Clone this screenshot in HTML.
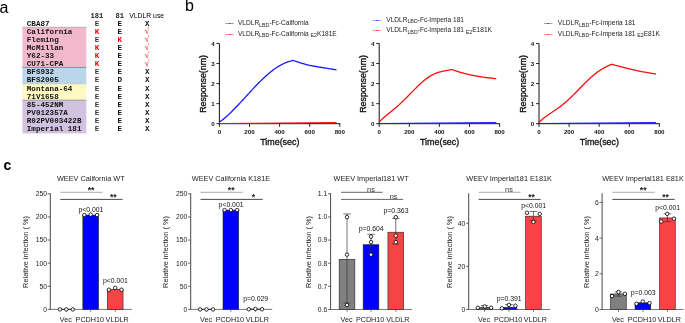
<!DOCTYPE html>
<html><head><meta charset="utf-8"><style>
html,body{margin:0;padding:0;background:#fff;width:685px;height:323px;overflow:hidden}
svg{display:block;will-change:transform}
</style></head><body>
<svg width="685" height="323" viewBox="0 0 685 323" font-family="'Liberation Sans', sans-serif">
<rect x="0" y="0" width="685" height="323" fill="#fff"/>
<text x="-0.60" y="12.70" font-size="16" text-anchor="start" font-weight="normal" fill="#000" font-family="'Liberation Sans', sans-serif" >a</text>
<rect x="22.40" y="27.00" width="63.90" height="40.50" fill="#F2B8CC" stroke="none" stroke-width="0"/>
<rect x="22.40" y="67.50" width="63.90" height="16.30" fill="#BAD6EA" stroke="none" stroke-width="0"/>
<rect x="22.40" y="83.80" width="63.90" height="16.40" fill="#FEF8C2" stroke="none" stroke-width="0"/>
<rect x="22.40" y="100.20" width="63.90" height="33.20" fill="#D1C2E0" stroke="none" stroke-width="0"/>
<line x1="22.40" y1="27.20" x2="86.30" y2="27.20" stroke="#9aa4b4" stroke-width="0.6"/>
<line x1="22.40" y1="67.50" x2="86.30" y2="67.50" stroke="#5c7896" stroke-width="0.7"/>
<line x1="22.40" y1="83.80" x2="86.30" y2="83.80" stroke="#aab0b8" stroke-width="0.5"/>
<line x1="22.40" y1="100.20" x2="86.30" y2="100.20" stroke="#808090" stroke-width="0.7"/>
<text x="90.60" y="18.00" font-size="7.1" text-anchor="start" font-weight="bold" fill="#222" font-family="'Liberation Mono', monospace" >181</text>
<text x="115.50" y="18.00" font-size="7.1" text-anchor="start" font-weight="bold" fill="#222" font-family="'Liberation Mono', monospace" >81</text>
<text x="129.30" y="18.30" font-size="6.8" text-anchor="start" font-weight="normal" fill="#000" font-family="'Liberation Sans', sans-serif" >VLDLR use</text>
<text x="26.80" y="25.60" font-size="7.6" text-anchor="start" font-weight="bold" fill="#111" font-family="'Liberation Mono', monospace" >CBA87</text>
<text x="97.10" y="25.60" font-size="7.6" text-anchor="middle" font-weight="bold" fill="#3a3a3a" font-family="'Liberation Mono', monospace" >E</text>
<text x="119.70" y="25.60" font-size="7.6" text-anchor="middle" font-weight="bold" fill="#111" font-family="'Liberation Mono', monospace" >E</text>
<text x="147.20" y="25.60" font-size="7.6" text-anchor="middle" font-weight="bold" fill="#111" font-family="'Liberation Mono', monospace" >X</text>
<text x="26.80" y="33.72" font-size="7.6" text-anchor="start" font-weight="bold" fill="#111" font-family="'Liberation Mono', monospace" >California</text>
<text x="97.10" y="33.72" font-size="7.6" text-anchor="middle" font-weight="bold" fill="#ff0000" font-family="'Liberation Mono', monospace" >K</text>
<text x="119.70" y="33.72" font-size="7.6" text-anchor="middle" font-weight="bold" fill="#111" font-family="'Liberation Mono', monospace" >E</text>
<path d="M144.80,30.42 L145.60,29.92 L147.30,33.82" stroke="#f04040" stroke-width="0.85" fill="none" stroke-linejoin="round"/>
<path d="M147.30,33.82 L148.60,26.92" stroke="#f26a6a" stroke-width="0.6" fill="none"/>
<text x="26.80" y="41.83" font-size="7.6" text-anchor="start" font-weight="bold" fill="#111" font-family="'Liberation Mono', monospace" >Fleming</text>
<text x="97.10" y="41.83" font-size="7.6" text-anchor="middle" font-weight="bold" fill="#3a3a3a" font-family="'Liberation Mono', monospace" >E</text>
<text x="119.70" y="41.83" font-size="7.6" text-anchor="middle" font-weight="bold" fill="#ff0000" font-family="'Liberation Mono', monospace" >K</text>
<path d="M144.80,38.53 L145.60,38.03 L147.30,41.93" stroke="#f04040" stroke-width="0.85" fill="none" stroke-linejoin="round"/>
<path d="M147.30,41.93 L148.60,35.03" stroke="#f26a6a" stroke-width="0.6" fill="none"/>
<text x="26.80" y="49.95" font-size="7.6" text-anchor="start" font-weight="bold" fill="#111" font-family="'Liberation Mono', monospace" >McMillan</text>
<text x="97.10" y="49.95" font-size="7.6" text-anchor="middle" font-weight="bold" fill="#ff0000" font-family="'Liberation Mono', monospace" >K</text>
<text x="119.70" y="49.95" font-size="7.6" text-anchor="middle" font-weight="bold" fill="#111" font-family="'Liberation Mono', monospace" >E</text>
<path d="M144.80,46.65 L145.60,46.15 L147.30,50.05" stroke="#f04040" stroke-width="0.85" fill="none" stroke-linejoin="round"/>
<path d="M147.30,50.05 L148.60,43.15" stroke="#f26a6a" stroke-width="0.6" fill="none"/>
<text x="26.80" y="58.06" font-size="7.6" text-anchor="start" font-weight="bold" fill="#111" font-family="'Liberation Mono', monospace" >Y62-33</text>
<text x="97.10" y="58.06" font-size="7.6" text-anchor="middle" font-weight="bold" fill="#ff0000" font-family="'Liberation Mono', monospace" >K</text>
<text x="119.70" y="58.06" font-size="7.6" text-anchor="middle" font-weight="bold" fill="#111" font-family="'Liberation Mono', monospace" >E</text>
<path d="M144.80,54.76 L145.60,54.26 L147.30,58.16" stroke="#f04040" stroke-width="0.85" fill="none" stroke-linejoin="round"/>
<path d="M147.30,58.16 L148.60,51.26" stroke="#f26a6a" stroke-width="0.6" fill="none"/>
<text x="26.80" y="66.18" font-size="7.6" text-anchor="start" font-weight="bold" fill="#111" font-family="'Liberation Mono', monospace" >CU71-CPA</text>
<text x="97.10" y="66.18" font-size="7.6" text-anchor="middle" font-weight="bold" fill="#ff0000" font-family="'Liberation Mono', monospace" >K</text>
<text x="119.70" y="66.18" font-size="7.6" text-anchor="middle" font-weight="bold" fill="#111" font-family="'Liberation Mono', monospace" >E</text>
<path d="M144.80,62.88 L145.60,62.38 L147.30,66.28" stroke="#f04040" stroke-width="0.85" fill="none" stroke-linejoin="round"/>
<path d="M147.30,66.28 L148.60,59.38" stroke="#f26a6a" stroke-width="0.6" fill="none"/>
<text x="26.80" y="74.29" font-size="7.6" text-anchor="start" font-weight="bold" fill="#111" font-family="'Liberation Mono', monospace" >BFS932</text>
<text x="97.10" y="74.29" font-size="7.6" text-anchor="middle" font-weight="bold" fill="#3a3a3a" font-family="'Liberation Mono', monospace" >E</text>
<text x="119.70" y="74.29" font-size="7.6" text-anchor="middle" font-weight="bold" fill="#111" font-family="'Liberation Mono', monospace" >E</text>
<text x="147.20" y="74.29" font-size="7.6" text-anchor="middle" font-weight="bold" fill="#111" font-family="'Liberation Mono', monospace" >X</text>
<text x="26.80" y="82.41" font-size="7.6" text-anchor="start" font-weight="bold" fill="#111" font-family="'Liberation Mono', monospace" >BFS2005</text>
<text x="97.10" y="82.41" font-size="7.6" text-anchor="middle" font-weight="bold" fill="#3a3a3a" font-family="'Liberation Mono', monospace" >E</text>
<text x="119.70" y="82.41" font-size="7.6" text-anchor="middle" font-weight="bold" fill="#111" font-family="'Liberation Mono', monospace" >D</text>
<text x="147.20" y="82.41" font-size="7.6" text-anchor="middle" font-weight="bold" fill="#111" font-family="'Liberation Mono', monospace" >X</text>
<text x="26.80" y="90.52" font-size="7.6" text-anchor="start" font-weight="bold" fill="#111" font-family="'Liberation Mono', monospace" >Montana-64</text>
<text x="97.10" y="90.52" font-size="7.6" text-anchor="middle" font-weight="bold" fill="#3a3a3a" font-family="'Liberation Mono', monospace" >E</text>
<text x="119.70" y="90.52" font-size="7.6" text-anchor="middle" font-weight="bold" fill="#111" font-family="'Liberation Mono', monospace" >E</text>
<text x="147.20" y="90.52" font-size="7.6" text-anchor="middle" font-weight="bold" fill="#111" font-family="'Liberation Mono', monospace" >X</text>
<text x="26.80" y="98.63" font-size="7.6" text-anchor="start" font-weight="bold" fill="#111" font-family="'Liberation Mono', monospace" >71V1658</text>
<text x="97.10" y="98.63" font-size="7.6" text-anchor="middle" font-weight="bold" fill="#3a3a3a" font-family="'Liberation Mono', monospace" >E</text>
<text x="119.70" y="98.63" font-size="7.6" text-anchor="middle" font-weight="bold" fill="#111" font-family="'Liberation Mono', monospace" >E</text>
<text x="147.20" y="98.63" font-size="7.6" text-anchor="middle" font-weight="bold" fill="#111" font-family="'Liberation Mono', monospace" >X</text>
<text x="26.80" y="106.75" font-size="7.6" text-anchor="start" font-weight="bold" fill="#111" font-family="'Liberation Mono', monospace" >85-452NM</text>
<text x="97.10" y="106.75" font-size="7.6" text-anchor="middle" font-weight="bold" fill="#3a3a3a" font-family="'Liberation Mono', monospace" >E</text>
<text x="119.70" y="106.75" font-size="7.6" text-anchor="middle" font-weight="bold" fill="#111" font-family="'Liberation Mono', monospace" >E</text>
<text x="147.20" y="106.75" font-size="7.6" text-anchor="middle" font-weight="bold" fill="#111" font-family="'Liberation Mono', monospace" >X</text>
<text x="26.80" y="114.87" font-size="7.6" text-anchor="start" font-weight="bold" fill="#111" font-family="'Liberation Mono', monospace" >PV012357A</text>
<text x="97.10" y="114.87" font-size="7.6" text-anchor="middle" font-weight="bold" fill="#3a3a3a" font-family="'Liberation Mono', monospace" >E</text>
<text x="119.70" y="114.87" font-size="7.6" text-anchor="middle" font-weight="bold" fill="#111" font-family="'Liberation Mono', monospace" >E</text>
<text x="147.20" y="114.87" font-size="7.6" text-anchor="middle" font-weight="bold" fill="#111" font-family="'Liberation Mono', monospace" >X</text>
<text x="26.80" y="122.98" font-size="7.6" text-anchor="start" font-weight="bold" fill="#111" font-family="'Liberation Mono', monospace" >R02PV003422B</text>
<text x="97.10" y="122.98" font-size="7.6" text-anchor="middle" font-weight="bold" fill="#3a3a3a" font-family="'Liberation Mono', monospace" >E</text>
<text x="119.70" y="122.98" font-size="7.6" text-anchor="middle" font-weight="bold" fill="#111" font-family="'Liberation Mono', monospace" >E</text>
<text x="147.20" y="122.98" font-size="7.6" text-anchor="middle" font-weight="bold" fill="#111" font-family="'Liberation Mono', monospace" >X</text>
<text x="26.80" y="131.09" font-size="7.6" text-anchor="start" font-weight="bold" fill="#111" font-family="'Liberation Mono', monospace" >Imperial 181</text>
<text x="97.10" y="131.09" font-size="7.6" text-anchor="middle" font-weight="bold" fill="#3a3a3a" font-family="'Liberation Mono', monospace" >E</text>
<text x="119.70" y="131.09" font-size="7.6" text-anchor="middle" font-weight="bold" fill="#111" font-family="'Liberation Mono', monospace" >E</text>
<text x="147.20" y="131.09" font-size="7.6" text-anchor="middle" font-weight="bold" fill="#111" font-family="'Liberation Mono', monospace" >X</text>
<text x="185.00" y="10.80" font-size="16" text-anchor="start" font-weight="normal" fill="#000" font-family="'Liberation Sans', sans-serif" >b</text>
<line x1="225.30" y1="23.50" x2="233.90" y2="23.50" stroke="#7a7aff" stroke-width="0.75"/>
<line x1="228.90" y1="23.50" x2="230.30" y2="23.50" stroke="#2020ff" stroke-width="0.9"/>
<line x1="225.30" y1="34.50" x2="233.90" y2="34.50" stroke="#ff7070" stroke-width="0.75"/>
<line x1="228.90" y1="34.50" x2="230.30" y2="34.50" stroke="#ff2020" stroke-width="0.9"/>
<text x="238.00" y="24.90" font-size="6.55" text-anchor="start" font-weight="normal" fill="#1a1a1a" font-family="'Liberation Sans', sans-serif" >VLDLR<tspan font-size="5.3" dy="1.6">LBD</tspan><tspan dy="-1.6">-Fc-California</tspan></text>
<text x="238.00" y="35.80" font-size="6.55" text-anchor="start" font-weight="normal" fill="#1a1a1a" font-family="'Liberation Sans', sans-serif" >VLDLR<tspan font-size="5.3" dy="1.6">LBD</tspan><tspan dy="-1.6">-Fc-California </tspan><tspan font-size="5.3" dy="1.6">E2</tspan><tspan dy="-1.6">K181E</tspan></text>
<line x1="219.40" y1="43.42" x2="219.40" y2="124.20" stroke="#111" stroke-width="1"/>
<line x1="218.90" y1="123.70" x2="340.30" y2="123.70" stroke="#111" stroke-width="1"/>
<line x1="216.40" y1="123.70" x2="219.40" y2="123.70" stroke="#111" stroke-width="0.9"/>
<text x="214.70" y="125.90" font-size="6.2" text-anchor="end" font-weight="bold" fill="#111" font-family="'Liberation Sans', sans-serif" >0</text>
<line x1="216.40" y1="103.63" x2="219.40" y2="103.63" stroke="#111" stroke-width="0.9"/>
<text x="214.70" y="105.83" font-size="6.2" text-anchor="end" font-weight="bold" fill="#111" font-family="'Liberation Sans', sans-serif" >1</text>
<line x1="216.40" y1="83.56" x2="219.40" y2="83.56" stroke="#111" stroke-width="0.9"/>
<text x="214.70" y="85.76" font-size="6.2" text-anchor="end" font-weight="bold" fill="#111" font-family="'Liberation Sans', sans-serif" >2</text>
<line x1="216.40" y1="63.49" x2="219.40" y2="63.49" stroke="#111" stroke-width="0.9"/>
<text x="214.70" y="65.69" font-size="6.2" text-anchor="end" font-weight="bold" fill="#111" font-family="'Liberation Sans', sans-serif" >3</text>
<line x1="216.40" y1="43.42" x2="219.40" y2="43.42" stroke="#111" stroke-width="0.9"/>
<text x="214.70" y="45.62" font-size="6.2" text-anchor="end" font-weight="bold" fill="#111" font-family="'Liberation Sans', sans-serif" >4</text>
<line x1="219.40" y1="123.70" x2="219.40" y2="126.90" stroke="#111" stroke-width="0.9"/>
<text x="219.40" y="134.00" font-size="6.2" text-anchor="middle" font-weight="bold" fill="#111" font-family="'Liberation Sans', sans-serif" >0</text>
<line x1="249.50" y1="123.70" x2="249.50" y2="126.90" stroke="#111" stroke-width="0.9"/>
<text x="249.50" y="134.00" font-size="6.2" text-anchor="middle" font-weight="bold" fill="#111" font-family="'Liberation Sans', sans-serif" >200</text>
<line x1="279.60" y1="123.70" x2="279.60" y2="126.90" stroke="#111" stroke-width="0.9"/>
<text x="279.60" y="134.00" font-size="6.2" text-anchor="middle" font-weight="bold" fill="#111" font-family="'Liberation Sans', sans-serif" >400</text>
<line x1="309.70" y1="123.70" x2="309.70" y2="126.90" stroke="#111" stroke-width="0.9"/>
<text x="309.70" y="134.00" font-size="6.2" text-anchor="middle" font-weight="bold" fill="#111" font-family="'Liberation Sans', sans-serif" >600</text>
<line x1="339.80" y1="123.70" x2="339.80" y2="126.90" stroke="#111" stroke-width="0.9"/>
<text x="339.80" y="134.00" font-size="6.2" text-anchor="middle" font-weight="bold" fill="#111" font-family="'Liberation Sans', sans-serif" >800</text>
<text x="279.80" y="145.30" font-size="8.9" text-anchor="middle" font-weight="normal" fill="#111" font-family="'Liberation Sans', sans-serif" stroke="#111" stroke-width="0.32">Time(sec)</text>
<text x="0" y="0" font-size="8.8" text-anchor="middle" font-family="'Liberation Sans', sans-serif" fill="#111" stroke="#111" stroke-width="0.32" transform="translate(206.40,83.90) rotate(-90)">Response(nm)</text>
<path d="M219.40,123.50 L336.49,122.50" stroke="#ff0c0c" stroke-width="1.1" fill="none"/>
<path d="M219.40,122.08 L220.13,121.57 L220.86,121.04 L221.59,120.50 L222.32,119.95 L223.05,119.37 L223.78,118.79 L224.51,118.19 L225.24,117.57 L225.97,116.94 L226.70,116.30 L227.43,115.65 L228.16,114.99 L228.89,114.31 L229.62,113.62 L230.35,112.93 L231.08,112.22 L231.81,111.51 L232.54,110.78 L233.27,110.05 L234.00,109.31 L234.73,108.56 L235.46,107.81 L236.19,107.05 L236.92,106.29 L237.65,105.52 L238.38,104.74 L239.11,103.96 L239.84,103.18 L240.57,102.39 L241.30,101.60 L242.03,100.81 L242.76,100.01 L243.49,99.22 L244.22,98.42 L244.95,97.62 L245.68,96.82 L246.41,96.02 L247.14,95.22 L247.87,94.42 L248.60,93.63 L249.33,92.83 L250.06,92.04 L250.79,91.25 L251.52,90.46 L252.25,89.67 L252.98,88.89 L253.71,88.11 L254.44,87.34 L255.17,86.57 L255.90,85.81 L256.63,85.05 L257.36,84.30 L258.09,83.55 L258.82,82.81 L259.55,82.07 L260.28,81.35 L261.01,80.63 L261.74,79.92 L262.47,79.21 L263.20,78.52 L263.93,77.83 L264.66,77.15 L265.39,76.49 L266.12,75.83 L266.85,75.18 L267.58,74.54 L268.30,73.91 L269.03,73.29 L269.76,72.69 L270.49,72.09 L271.22,71.51 L271.95,70.94 L272.68,70.38 L273.41,69.83 L274.14,69.30 L274.87,68.78 L275.60,68.27 L276.33,67.77 L277.06,67.29 L277.79,66.82 L278.52,66.37 L279.25,65.93 L279.98,65.51 L280.71,65.10 L281.44,64.70 L282.17,64.32 L282.90,63.96 L283.63,63.61 L284.36,63.28 L285.09,62.96 L285.82,62.66 L286.55,62.38 L287.28,62.11 L288.01,61.86 L288.74,61.63 L289.47,61.41 L290.20,61.21 L290.93,61.03 L291.66,60.86 L292.39,60.28 L293.13,60.51 L293.86,60.75 L294.60,60.99 L295.33,61.22 L296.07,61.46 L296.80,61.69 L297.54,61.92 L298.27,62.15 L299.01,62.37 L299.74,62.60 L300.48,62.83 L301.21,63.05 L301.95,63.28 L302.68,63.51 L303.42,63.73 L304.15,63.95 L304.89,64.16 L305.62,64.37 L306.36,64.57 L307.09,64.76 L307.83,64.94 L308.56,65.11 L309.30,65.27 L310.03,65.43 L310.77,65.57 L311.50,65.72 L312.24,65.86 L312.97,65.99 L313.71,66.12 L314.44,66.25 L315.18,66.38 L315.91,66.50 L316.65,66.62 L317.38,66.75 L318.12,66.87 L318.85,66.99 L319.59,67.12 L320.32,67.25 L321.06,67.37 L321.79,67.49 L322.53,67.62 L323.26,67.74 L323.99,67.86 L324.73,67.98 L325.46,68.10 L326.20,68.21 L326.93,68.33 L327.67,68.45 L328.40,68.57 L329.14,68.68 L329.87,68.80 L330.61,68.91 L331.34,69.03 L332.08,69.15 L332.81,69.26 L333.55,69.38 L334.28,69.49 L335.02,69.61 L335.75,69.73 L336.49,69.84" stroke="#1a1aff" stroke-width="1.3" fill="none" stroke-linejoin="round"/>
<line x1="372.70" y1="20.50" x2="381.30" y2="20.50" stroke="#7a7aff" stroke-width="0.75"/>
<line x1="376.30" y1="20.50" x2="377.70" y2="20.50" stroke="#2020ff" stroke-width="0.9"/>
<line x1="372.70" y1="30.50" x2="381.30" y2="30.50" stroke="#ff7070" stroke-width="0.75"/>
<line x1="376.30" y1="30.50" x2="377.70" y2="30.50" stroke="#ff2020" stroke-width="0.9"/>
<text x="386.30" y="21.60" font-size="6.55" text-anchor="start" font-weight="normal" fill="#1a1a1a" font-family="'Liberation Sans', sans-serif" >VLDLR<tspan font-size="5.3" dy="1.6">LBD</tspan><tspan dy="-1.6">-Fc-Imperia 181</tspan></text>
<text x="386.30" y="32.10" font-size="6.55" text-anchor="start" font-weight="normal" fill="#1a1a1a" font-family="'Liberation Sans', sans-serif" >VLDLR<tspan font-size="5.3" dy="1.6">LBD</tspan><tspan dy="-1.6">-Fc-Imperia 181 </tspan><tspan font-size="5.3" dy="1.6">E2</tspan><tspan dy="-1.6">E181K</tspan></text>
<line x1="379.20" y1="43.42" x2="379.20" y2="124.20" stroke="#111" stroke-width="1"/>
<line x1="378.70" y1="123.70" x2="500.10" y2="123.70" stroke="#111" stroke-width="1"/>
<line x1="376.20" y1="123.70" x2="379.20" y2="123.70" stroke="#111" stroke-width="0.9"/>
<text x="374.50" y="125.90" font-size="6.2" text-anchor="end" font-weight="bold" fill="#111" font-family="'Liberation Sans', sans-serif" >0</text>
<line x1="376.20" y1="103.63" x2="379.20" y2="103.63" stroke="#111" stroke-width="0.9"/>
<text x="374.50" y="105.83" font-size="6.2" text-anchor="end" font-weight="bold" fill="#111" font-family="'Liberation Sans', sans-serif" >1</text>
<line x1="376.20" y1="83.56" x2="379.20" y2="83.56" stroke="#111" stroke-width="0.9"/>
<text x="374.50" y="85.76" font-size="6.2" text-anchor="end" font-weight="bold" fill="#111" font-family="'Liberation Sans', sans-serif" >2</text>
<line x1="376.20" y1="63.49" x2="379.20" y2="63.49" stroke="#111" stroke-width="0.9"/>
<text x="374.50" y="65.69" font-size="6.2" text-anchor="end" font-weight="bold" fill="#111" font-family="'Liberation Sans', sans-serif" >3</text>
<line x1="376.20" y1="43.42" x2="379.20" y2="43.42" stroke="#111" stroke-width="0.9"/>
<text x="374.50" y="45.62" font-size="6.2" text-anchor="end" font-weight="bold" fill="#111" font-family="'Liberation Sans', sans-serif" >4</text>
<line x1="379.20" y1="123.70" x2="379.20" y2="126.90" stroke="#111" stroke-width="0.9"/>
<text x="379.20" y="134.00" font-size="6.2" text-anchor="middle" font-weight="bold" fill="#111" font-family="'Liberation Sans', sans-serif" >0</text>
<line x1="409.30" y1="123.70" x2="409.30" y2="126.90" stroke="#111" stroke-width="0.9"/>
<text x="409.30" y="134.00" font-size="6.2" text-anchor="middle" font-weight="bold" fill="#111" font-family="'Liberation Sans', sans-serif" >200</text>
<line x1="439.40" y1="123.70" x2="439.40" y2="126.90" stroke="#111" stroke-width="0.9"/>
<text x="439.40" y="134.00" font-size="6.2" text-anchor="middle" font-weight="bold" fill="#111" font-family="'Liberation Sans', sans-serif" >400</text>
<line x1="469.50" y1="123.70" x2="469.50" y2="126.90" stroke="#111" stroke-width="0.9"/>
<text x="469.50" y="134.00" font-size="6.2" text-anchor="middle" font-weight="bold" fill="#111" font-family="'Liberation Sans', sans-serif" >600</text>
<line x1="499.60" y1="123.70" x2="499.60" y2="126.90" stroke="#111" stroke-width="0.9"/>
<text x="499.60" y="134.00" font-size="6.2" text-anchor="middle" font-weight="bold" fill="#111" font-family="'Liberation Sans', sans-serif" >800</text>
<text x="439.60" y="145.30" font-size="8.9" text-anchor="middle" font-weight="normal" fill="#111" font-family="'Liberation Sans', sans-serif" stroke="#111" stroke-width="0.32">Time(sec)</text>
<text x="0" y="0" font-size="8.8" text-anchor="middle" font-family="'Liberation Sans', sans-serif" fill="#111" stroke="#111" stroke-width="0.32" transform="translate(366.20,83.90) rotate(-90)">Response(nm)</text>
<path d="M379.20,123.50 L496.29,122.50" stroke="#1a1aff" stroke-width="1.1" fill="none"/>
<path d="M379.20,122.10 L379.92,121.32 L380.64,120.57 L381.37,119.85 L382.09,119.15 L382.81,118.47 L383.53,117.82 L384.26,117.18 L384.98,116.56 L385.70,115.95 L386.42,115.34 L387.15,114.75 L387.87,114.16 L388.59,113.58 L389.31,112.99 L390.04,112.41 L390.76,111.83 L391.48,111.25 L392.20,110.66 L392.93,110.07 L393.65,109.47 L394.37,108.87 L395.09,108.26 L395.82,107.65 L396.54,107.03 L397.26,106.40 L397.98,105.76 L398.70,105.11 L399.43,104.46 L400.15,103.80 L400.87,103.13 L401.59,102.45 L402.32,101.76 L403.04,101.07 L403.76,100.37 L404.48,99.66 L405.21,98.94 L405.93,98.22 L406.65,97.50 L407.37,96.77 L408.10,96.04 L408.82,95.30 L409.54,94.56 L410.26,93.82 L410.99,93.08 L411.71,92.34 L412.43,91.60 L413.15,90.86 L413.88,90.12 L414.60,89.39 L415.32,88.66 L416.04,87.94 L416.76,87.22 L417.49,86.51 L418.21,85.81 L418.93,85.12 L419.65,84.44 L420.38,83.77 L421.10,83.11 L421.82,82.47 L422.54,81.84 L423.27,81.22 L423.99,80.61 L424.71,80.03 L425.43,79.46 L426.16,78.90 L426.88,78.36 L427.60,77.85 L428.32,77.35 L429.05,76.86 L429.77,76.40 L430.49,75.96 L431.21,75.54 L431.94,75.13 L432.66,74.75 L433.38,74.39 L434.10,74.04 L434.82,73.72 L435.55,73.41 L436.27,73.13 L436.99,72.86 L437.71,72.61 L438.44,72.37 L439.16,72.15 L439.88,71.95 L440.60,71.76 L441.33,71.59 L442.05,71.42 L442.77,71.27 L443.49,71.12 L444.22,70.98 L444.94,70.85 L445.66,70.72 L446.38,70.59 L447.11,70.46 L447.83,70.33 L448.55,70.18 L449.27,70.03 L450.00,69.87 L450.72,69.69 L451.44,69.51 L452.19,69.75 L452.93,69.99 L453.68,70.23 L454.43,70.48 L455.18,70.72 L455.92,70.96 L456.67,71.20 L457.42,71.44 L458.17,71.67 L458.91,71.89 L459.66,72.10 L460.41,72.31 L461.16,72.52 L461.90,72.73 L462.65,72.93 L463.40,73.13 L464.15,73.33 L464.89,73.52 L465.64,73.71 L466.39,73.90 L467.14,74.08 L467.88,74.26 L468.63,74.44 L469.38,74.61 L470.13,74.77 L470.87,74.93 L471.62,75.09 L472.37,75.25 L473.12,75.40 L473.86,75.55 L474.61,75.69 L475.36,75.84 L476.11,75.98 L476.85,76.11 L477.60,76.25 L478.35,76.38 L479.10,76.50 L479.84,76.63 L480.59,76.75 L481.34,76.86 L482.09,76.97 L482.83,77.08 L483.58,77.19 L484.33,77.29 L485.08,77.39 L485.82,77.48 L486.57,77.58 L487.32,77.67 L488.07,77.76 L488.81,77.85 L489.56,77.94 L490.31,78.02 L491.06,78.11 L491.80,78.19 L492.55,78.28 L493.30,78.37 L494.05,78.45 L494.79,78.54 L495.54,78.63 L496.29,78.72" stroke="#ff0c0c" stroke-width="1.3" fill="none" stroke-linejoin="round"/>
<line x1="544.00" y1="23.50" x2="552.60" y2="23.50" stroke="#7a7aff" stroke-width="0.75"/>
<line x1="547.60" y1="23.50" x2="549.00" y2="23.50" stroke="#2020ff" stroke-width="0.9"/>
<line x1="544.00" y1="34.50" x2="552.60" y2="34.50" stroke="#ff7070" stroke-width="0.75"/>
<line x1="547.60" y1="34.50" x2="549.00" y2="34.50" stroke="#ff2020" stroke-width="0.9"/>
<text x="557.80" y="24.90" font-size="6.55" text-anchor="start" font-weight="normal" fill="#1a1a1a" font-family="'Liberation Sans', sans-serif" >VLDLR<tspan font-size="5.3" dy="1.6">LBD</tspan><tspan dy="-1.6">-Fc-Imperia 181</tspan></text>
<text x="557.80" y="35.60" font-size="6.55" text-anchor="start" font-weight="normal" fill="#1a1a1a" font-family="'Liberation Sans', sans-serif" >VLDLR<tspan font-size="5.3" dy="1.6">LBD</tspan><tspan dy="-1.6">-Fc-Imperia 181 </tspan><tspan font-size="5.3" dy="1.6">E2</tspan><tspan dy="-1.6">E81K</tspan></text>
<line x1="539.00" y1="43.42" x2="539.00" y2="124.20" stroke="#111" stroke-width="1"/>
<line x1="538.50" y1="123.70" x2="659.90" y2="123.70" stroke="#111" stroke-width="1"/>
<line x1="536.00" y1="123.70" x2="539.00" y2="123.70" stroke="#111" stroke-width="0.9"/>
<text x="534.30" y="125.90" font-size="6.2" text-anchor="end" font-weight="bold" fill="#111" font-family="'Liberation Sans', sans-serif" >0</text>
<line x1="536.00" y1="103.63" x2="539.00" y2="103.63" stroke="#111" stroke-width="0.9"/>
<text x="534.30" y="105.83" font-size="6.2" text-anchor="end" font-weight="bold" fill="#111" font-family="'Liberation Sans', sans-serif" >1</text>
<line x1="536.00" y1="83.56" x2="539.00" y2="83.56" stroke="#111" stroke-width="0.9"/>
<text x="534.30" y="85.76" font-size="6.2" text-anchor="end" font-weight="bold" fill="#111" font-family="'Liberation Sans', sans-serif" >2</text>
<line x1="536.00" y1="63.49" x2="539.00" y2="63.49" stroke="#111" stroke-width="0.9"/>
<text x="534.30" y="65.69" font-size="6.2" text-anchor="end" font-weight="bold" fill="#111" font-family="'Liberation Sans', sans-serif" >3</text>
<line x1="536.00" y1="43.42" x2="539.00" y2="43.42" stroke="#111" stroke-width="0.9"/>
<text x="534.30" y="45.62" font-size="6.2" text-anchor="end" font-weight="bold" fill="#111" font-family="'Liberation Sans', sans-serif" >4</text>
<line x1="539.00" y1="123.70" x2="539.00" y2="126.90" stroke="#111" stroke-width="0.9"/>
<text x="539.00" y="134.00" font-size="6.2" text-anchor="middle" font-weight="bold" fill="#111" font-family="'Liberation Sans', sans-serif" >0</text>
<line x1="569.10" y1="123.70" x2="569.10" y2="126.90" stroke="#111" stroke-width="0.9"/>
<text x="569.10" y="134.00" font-size="6.2" text-anchor="middle" font-weight="bold" fill="#111" font-family="'Liberation Sans', sans-serif" >200</text>
<line x1="599.20" y1="123.70" x2="599.20" y2="126.90" stroke="#111" stroke-width="0.9"/>
<text x="599.20" y="134.00" font-size="6.2" text-anchor="middle" font-weight="bold" fill="#111" font-family="'Liberation Sans', sans-serif" >400</text>
<line x1="629.30" y1="123.70" x2="629.30" y2="126.90" stroke="#111" stroke-width="0.9"/>
<text x="629.30" y="134.00" font-size="6.2" text-anchor="middle" font-weight="bold" fill="#111" font-family="'Liberation Sans', sans-serif" >600</text>
<line x1="659.40" y1="123.70" x2="659.40" y2="126.90" stroke="#111" stroke-width="0.9"/>
<text x="659.40" y="134.00" font-size="6.2" text-anchor="middle" font-weight="bold" fill="#111" font-family="'Liberation Sans', sans-serif" >800</text>
<text x="599.40" y="145.30" font-size="8.9" text-anchor="middle" font-weight="normal" fill="#111" font-family="'Liberation Sans', sans-serif" stroke="#111" stroke-width="0.32">Time(sec)</text>
<text x="0" y="0" font-size="8.8" text-anchor="middle" font-family="'Liberation Sans', sans-serif" fill="#111" stroke="#111" stroke-width="0.32" transform="translate(526.00,83.90) rotate(-90)">Response(nm)</text>
<path d="M539.00,123.50 L656.09,122.50" stroke="#1a1aff" stroke-width="1.1" fill="none"/>
<path d="M539.00,122.51 L539.73,121.75 L540.45,121.02 L541.18,120.33 L541.91,119.67 L542.63,119.04 L543.36,118.44 L544.09,117.85 L544.82,117.29 L545.54,116.74 L546.27,116.21 L547.00,115.70 L547.72,115.19 L548.45,114.69 L549.18,114.20 L549.90,113.71 L550.63,113.23 L551.36,112.75 L552.08,112.27 L552.81,111.79 L553.54,111.30 L554.27,110.81 L554.99,110.32 L555.72,109.82 L556.45,109.32 L557.17,108.81 L557.90,108.29 L558.63,107.76 L559.35,107.22 L560.08,106.67 L560.81,106.12 L561.53,105.55 L562.26,104.97 L562.99,104.39 L563.72,103.79 L564.44,103.18 L565.17,102.56 L565.90,101.93 L566.62,101.29 L567.35,100.64 L568.08,99.98 L568.80,99.32 L569.53,98.64 L570.26,97.95 L570.98,97.26 L571.71,96.55 L572.44,95.84 L573.17,95.13 L573.89,94.41 L574.62,93.68 L575.35,92.94 L576.07,92.21 L576.80,91.47 L577.53,90.73 L578.25,89.98 L578.98,89.23 L579.71,88.49 L580.43,87.74 L581.16,87.00 L581.89,86.25 L582.61,85.51 L583.34,84.78 L584.07,84.04 L584.80,83.31 L585.52,82.59 L586.25,81.88 L586.98,81.17 L587.70,80.47 L588.43,79.77 L589.16,79.09 L589.88,78.42 L590.61,77.75 L591.34,77.10 L592.06,76.46 L592.79,75.83 L593.52,75.22 L594.25,74.62 L594.97,74.03 L595.70,73.45 L596.43,72.89 L597.15,72.34 L597.88,71.81 L598.61,71.30 L599.33,70.79 L600.06,70.31 L600.79,69.83 L601.51,69.38 L602.24,68.93 L602.97,68.50 L603.70,68.09 L604.42,67.69 L605.15,67.30 L605.88,66.93 L606.60,66.56 L607.33,66.21 L608.06,65.87 L608.78,65.54 L609.51,65.22 L610.24,64.90 L610.96,64.60 L611.69,64.29 L612.43,64.49 L613.17,64.69 L613.91,64.89 L614.65,65.09 L615.39,65.29 L616.13,65.48 L616.87,65.68 L617.61,65.88 L618.35,66.08 L619.09,66.27 L619.83,66.46 L620.57,66.66 L621.31,66.85 L622.05,67.04 L622.79,67.23 L623.53,67.43 L624.27,67.62 L625.01,67.81 L625.75,68.00 L626.49,68.18 L627.23,68.37 L627.97,68.56 L628.71,68.74 L629.45,68.92 L630.19,69.09 L630.93,69.27 L631.67,69.44 L632.41,69.61 L633.15,69.78 L633.89,69.95 L634.63,70.12 L635.37,70.29 L636.11,70.45 L636.85,70.61 L637.59,70.77 L638.33,70.93 L639.07,71.09 L639.81,71.24 L640.55,71.39 L641.29,71.53 L642.03,71.68 L642.77,71.82 L643.51,71.96 L644.25,72.09 L644.99,72.22 L645.73,72.35 L646.47,72.48 L647.21,72.60 L647.95,72.73 L648.69,72.85 L649.43,72.97 L650.17,73.09 L650.91,73.21 L651.65,73.33 L652.39,73.45 L653.13,73.57 L653.87,73.69 L654.61,73.81 L655.35,73.93 L656.09,74.05" stroke="#ff0c0c" stroke-width="1.3" fill="none" stroke-linejoin="round"/>
<text x="3.50" y="169.80" font-size="14" text-anchor="start" font-weight="bold" fill="#000" font-family="'Liberation Sans', sans-serif" >c</text>
<text x="90.80" y="181.20" font-size="7.3" text-anchor="middle" font-weight="normal" fill="#222" font-family="'Liberation Sans', sans-serif" >WEEV California WT</text>
<line x1="50.30" y1="193.20" x2="50.30" y2="309.80" stroke="#333" stroke-width="0.9"/>
<line x1="49.90" y1="309.40" x2="131.80" y2="309.40" stroke="#6a6a6a" stroke-width="0.9"/>
<line x1="47.70" y1="309.40" x2="50.30" y2="309.40" stroke="#444" stroke-width="0.8"/>
<text x="47.00" y="311.80" font-size="6.8" text-anchor="end" font-weight="normal" fill="#222" font-family="'Liberation Sans', sans-serif" >0</text>
<line x1="47.70" y1="286.28" x2="50.30" y2="286.28" stroke="#444" stroke-width="0.8"/>
<text x="47.00" y="288.68" font-size="6.8" text-anchor="end" font-weight="normal" fill="#222" font-family="'Liberation Sans', sans-serif" >50</text>
<line x1="47.70" y1="263.16" x2="50.30" y2="263.16" stroke="#444" stroke-width="0.8"/>
<text x="47.00" y="265.56" font-size="6.8" text-anchor="end" font-weight="normal" fill="#222" font-family="'Liberation Sans', sans-serif" >100</text>
<line x1="47.70" y1="240.04" x2="50.30" y2="240.04" stroke="#444" stroke-width="0.8"/>
<text x="47.00" y="242.44" font-size="6.8" text-anchor="end" font-weight="normal" fill="#222" font-family="'Liberation Sans', sans-serif" >150</text>
<line x1="47.70" y1="216.92" x2="50.30" y2="216.92" stroke="#444" stroke-width="0.8"/>
<text x="47.00" y="219.32" font-size="6.8" text-anchor="end" font-weight="normal" fill="#222" font-family="'Liberation Sans', sans-serif" >200</text>
<line x1="47.70" y1="193.80" x2="50.30" y2="193.80" stroke="#444" stroke-width="0.8"/>
<text x="47.00" y="196.20" font-size="6.8" text-anchor="end" font-weight="normal" fill="#222" font-family="'Liberation Sans', sans-serif" >250</text>
<line x1="66.30" y1="309.40" x2="66.30" y2="311.80" stroke="#444" stroke-width="0.7"/>
<line x1="90.70" y1="309.40" x2="90.70" y2="311.80" stroke="#444" stroke-width="0.7"/>
<line x1="115.20" y1="309.40" x2="115.20" y2="311.80" stroke="#444" stroke-width="0.7"/>
<line x1="58.45" y1="309.40" x2="74.15" y2="309.40" stroke="#222" stroke-width="0.9"/>
<circle cx="59.90" cy="309.40" r="1.75" fill="#fff" stroke="#000" stroke-width="0.8"/>
<circle cx="66.30" cy="309.40" r="1.75" fill="#fff" stroke="#000" stroke-width="0.8"/>
<circle cx="72.80" cy="309.40" r="1.75" fill="#fff" stroke="#000" stroke-width="0.8"/>
<rect x="82.85" y="215.07" width="15.70" height="94.33" fill="#0000ff" stroke="#222" stroke-width="0.6"/>
<circle cx="84.30" cy="215.07" r="1.75" fill="#fff" stroke="#000" stroke-width="0.8"/>
<circle cx="90.70" cy="214.61" r="1.75" fill="#fff" stroke="#000" stroke-width="0.8"/>
<circle cx="97.10" cy="215.07" r="1.75" fill="#fff" stroke="#000" stroke-width="0.8"/>
<rect x="107.35" y="289.29" width="15.70" height="20.11" fill="#f84444" stroke="#222" stroke-width="0.6"/>
<circle cx="108.90" cy="289.75" r="1.75" fill="#fff" stroke="#000" stroke-width="0.8"/>
<circle cx="115.20" cy="287.90" r="1.75" fill="#fff" stroke="#000" stroke-width="0.8"/>
<circle cx="121.50" cy="289.75" r="1.75" fill="#fff" stroke="#000" stroke-width="0.8"/>
<text x="65.80" y="321.90" font-size="7.2" text-anchor="middle" font-weight="normal" fill="#222" font-family="'Liberation Sans', sans-serif" >Vec</text>
<text x="89.80" y="321.90" font-size="7.2" text-anchor="middle" font-weight="normal" fill="#222" font-family="'Liberation Sans', sans-serif" >PCDH10</text>
<text x="117.20" y="321.90" font-size="7.2" text-anchor="middle" font-weight="normal" fill="#222" font-family="'Liberation Sans', sans-serif" >VLDLR</text>
<text x="0" y="0" font-size="7.4" text-anchor="middle" font-family="'Liberation Sans', sans-serif" fill="#222" transform="translate(27.70,252.00) rotate(-90)">Relative infection ( %)</text>
<line x1="60.30" y1="192.30" x2="102.35" y2="192.30" stroke="#a0a0a0" stroke-width="0.9"/>
<line x1="60.30" y1="199.40" x2="122.50" y2="199.40" stroke="#333" stroke-width="0.9"/>
<text x="91.00" y="193.10" font-size="8.6" text-anchor="middle" font-weight="bold" fill="#222" font-family="'Liberation Sans', sans-serif" >**</text>
<text x="113.30" y="200.20" font-size="8.6" text-anchor="middle" font-weight="bold" fill="#222" font-family="'Liberation Sans', sans-serif" >**</text>
<text x="90.90" y="211.60" font-size="6.85" text-anchor="middle" font-weight="normal" fill="#111" font-family="'Liberation Sans', sans-serif" >p&lt;0.001</text>
<text x="115.40" y="282.70" font-size="6.85" text-anchor="middle" font-weight="normal" fill="#111" font-family="'Liberation Sans', sans-serif" >p&lt;0.001</text>
<text x="230.95" y="181.20" font-size="7.3" text-anchor="middle" font-weight="normal" fill="#222" font-family="'Liberation Sans', sans-serif" >WEEV California K181E</text>
<line x1="190.70" y1="193.20" x2="190.70" y2="309.80" stroke="#333" stroke-width="0.9"/>
<line x1="190.30" y1="309.40" x2="272.20" y2="309.40" stroke="#6a6a6a" stroke-width="0.9"/>
<line x1="188.10" y1="309.40" x2="190.70" y2="309.40" stroke="#444" stroke-width="0.8"/>
<text x="187.40" y="311.80" font-size="6.8" text-anchor="end" font-weight="normal" fill="#222" font-family="'Liberation Sans', sans-serif" >0</text>
<line x1="188.10" y1="286.28" x2="190.70" y2="286.28" stroke="#444" stroke-width="0.8"/>
<text x="187.40" y="288.68" font-size="6.8" text-anchor="end" font-weight="normal" fill="#222" font-family="'Liberation Sans', sans-serif" >50</text>
<line x1="188.10" y1="263.16" x2="190.70" y2="263.16" stroke="#444" stroke-width="0.8"/>
<text x="187.40" y="265.56" font-size="6.8" text-anchor="end" font-weight="normal" fill="#222" font-family="'Liberation Sans', sans-serif" >100</text>
<line x1="188.10" y1="240.04" x2="190.70" y2="240.04" stroke="#444" stroke-width="0.8"/>
<text x="187.40" y="242.44" font-size="6.8" text-anchor="end" font-weight="normal" fill="#222" font-family="'Liberation Sans', sans-serif" >150</text>
<line x1="188.10" y1="216.92" x2="190.70" y2="216.92" stroke="#444" stroke-width="0.8"/>
<text x="187.40" y="219.32" font-size="6.8" text-anchor="end" font-weight="normal" fill="#222" font-family="'Liberation Sans', sans-serif" >200</text>
<line x1="188.10" y1="193.80" x2="190.70" y2="193.80" stroke="#444" stroke-width="0.8"/>
<text x="187.40" y="196.20" font-size="6.8" text-anchor="end" font-weight="normal" fill="#222" font-family="'Liberation Sans', sans-serif" >250</text>
<line x1="206.50" y1="309.40" x2="206.50" y2="311.80" stroke="#444" stroke-width="0.7"/>
<line x1="230.85" y1="309.40" x2="230.85" y2="311.80" stroke="#444" stroke-width="0.7"/>
<line x1="255.40" y1="309.40" x2="255.40" y2="311.80" stroke="#444" stroke-width="0.7"/>
<line x1="198.65" y1="309.40" x2="214.35" y2="309.40" stroke="#222" stroke-width="0.9"/>
<circle cx="200.10" cy="309.40" r="1.75" fill="#fff" stroke="#000" stroke-width="0.8"/>
<circle cx="206.50" cy="309.40" r="1.75" fill="#fff" stroke="#000" stroke-width="0.8"/>
<circle cx="213.00" cy="309.40" r="1.75" fill="#fff" stroke="#000" stroke-width="0.8"/>
<rect x="223.00" y="210.12" width="15.70" height="99.28" fill="#0000ff" stroke="#222" stroke-width="0.6"/>
<circle cx="224.55" cy="210.12" r="1.75" fill="#fff" stroke="#000" stroke-width="0.8"/>
<circle cx="230.85" cy="210.12" r="1.75" fill="#fff" stroke="#000" stroke-width="0.8"/>
<circle cx="237.15" cy="210.12" r="1.75" fill="#fff" stroke="#000" stroke-width="0.8"/>
<line x1="247.55" y1="309.17" x2="263.25" y2="309.17" stroke="#222" stroke-width="0.9"/>
<circle cx="248.80" cy="309.26" r="1.75" fill="#fff" stroke="#000" stroke-width="0.8"/>
<circle cx="255.40" cy="308.94" r="1.75" fill="#fff" stroke="#000" stroke-width="0.8"/>
<circle cx="262.00" cy="309.26" r="1.75" fill="#fff" stroke="#000" stroke-width="0.8"/>
<text x="206.00" y="321.90" font-size="7.2" text-anchor="middle" font-weight="normal" fill="#222" font-family="'Liberation Sans', sans-serif" >Vec</text>
<text x="229.95" y="321.90" font-size="7.2" text-anchor="middle" font-weight="normal" fill="#222" font-family="'Liberation Sans', sans-serif" >PCDH10</text>
<text x="257.40" y="321.90" font-size="7.2" text-anchor="middle" font-weight="normal" fill="#222" font-family="'Liberation Sans', sans-serif" >VLDLR</text>
<text x="0" y="0" font-size="7.4" text-anchor="middle" font-family="'Liberation Sans', sans-serif" fill="#222" transform="translate(168.10,252.00) rotate(-90)">Relative infection ( %)</text>
<line x1="200.50" y1="192.30" x2="242.50" y2="192.30" stroke="#a0a0a0" stroke-width="0.9"/>
<line x1="200.50" y1="199.40" x2="262.70" y2="199.40" stroke="#333" stroke-width="0.9"/>
<text x="231.15" y="193.10" font-size="8.6" text-anchor="middle" font-weight="bold" fill="#222" font-family="'Liberation Sans', sans-serif" >**</text>
<text x="253.50" y="200.20" font-size="8.6" text-anchor="middle" font-weight="bold" fill="#222" font-family="'Liberation Sans', sans-serif" >*</text>
<text x="231.05" y="206.80" font-size="6.85" text-anchor="middle" font-weight="normal" fill="#111" font-family="'Liberation Sans', sans-serif" >p&lt;0.001</text>
<text x="255.60" y="300.80" font-size="6.85" text-anchor="middle" font-weight="normal" fill="#111" font-family="'Liberation Sans', sans-serif" >p=0.029</text>
<text x="371.10" y="181.20" font-size="7.3" text-anchor="middle" font-weight="normal" fill="#222" font-family="'Liberation Sans', sans-serif" >WEEV Imperial181 WT</text>
<line x1="330.60" y1="193.20" x2="330.60" y2="309.90" stroke="#333" stroke-width="0.9"/>
<line x1="330.20" y1="309.50" x2="412.10" y2="309.50" stroke="#6a6a6a" stroke-width="0.9"/>
<line x1="328.00" y1="309.50" x2="330.60" y2="309.50" stroke="#444" stroke-width="0.8"/>
<text x="327.30" y="311.90" font-size="6.8" text-anchor="end" font-weight="normal" fill="#222" font-family="'Liberation Sans', sans-serif" >0.6</text>
<line x1="328.00" y1="286.36" x2="330.60" y2="286.36" stroke="#444" stroke-width="0.8"/>
<text x="327.30" y="288.76" font-size="6.8" text-anchor="end" font-weight="normal" fill="#222" font-family="'Liberation Sans', sans-serif" >0.7</text>
<line x1="328.00" y1="263.22" x2="330.60" y2="263.22" stroke="#444" stroke-width="0.8"/>
<text x="327.30" y="265.62" font-size="6.8" text-anchor="end" font-weight="normal" fill="#222" font-family="'Liberation Sans', sans-serif" >0.8</text>
<line x1="328.00" y1="240.08" x2="330.60" y2="240.08" stroke="#444" stroke-width="0.8"/>
<text x="327.30" y="242.48" font-size="6.8" text-anchor="end" font-weight="normal" fill="#222" font-family="'Liberation Sans', sans-serif" >0.9</text>
<line x1="328.00" y1="216.94" x2="330.60" y2="216.94" stroke="#444" stroke-width="0.8"/>
<text x="327.30" y="219.34" font-size="6.8" text-anchor="end" font-weight="normal" fill="#222" font-family="'Liberation Sans', sans-serif" >1.0</text>
<line x1="328.00" y1="193.80" x2="330.60" y2="193.80" stroke="#444" stroke-width="0.8"/>
<text x="327.30" y="196.20" font-size="6.8" text-anchor="end" font-weight="normal" fill="#222" font-family="'Liberation Sans', sans-serif" >1.1</text>
<line x1="347.00" y1="309.50" x2="347.00" y2="311.90" stroke="#444" stroke-width="0.7"/>
<line x1="371.00" y1="309.50" x2="371.00" y2="311.90" stroke="#444" stroke-width="0.7"/>
<line x1="395.80" y1="309.50" x2="395.80" y2="311.90" stroke="#444" stroke-width="0.7"/>
<rect x="339.15" y="259.29" width="15.70" height="50.21" fill="#808080" stroke="#222" stroke-width="0.6"/>
<line x1="347.00" y1="213.93" x2="347.00" y2="303.02" stroke="#333" stroke-width="0.7"/>
<line x1="343.30" y1="213.93" x2="350.70" y2="213.93" stroke="#333" stroke-width="0.7"/>
<line x1="343.30" y1="303.02" x2="350.70" y2="303.02" stroke="#333" stroke-width="0.7"/>
<circle cx="347.00" cy="217.17" r="1.75" fill="#fff" stroke="#000" stroke-width="0.8"/>
<circle cx="347.00" cy="254.66" r="1.75" fill="#fff" stroke="#000" stroke-width="0.8"/>
<circle cx="347.00" cy="305.10" r="1.75" fill="#fff" stroke="#000" stroke-width="0.8"/>
<rect x="363.15" y="244.71" width="15.70" height="64.79" fill="#0000ff" stroke="#222" stroke-width="0.6"/>
<line x1="371.00" y1="234.29" x2="371.00" y2="253.96" stroke="#333" stroke-width="0.7"/>
<line x1="367.30" y1="234.29" x2="374.70" y2="234.29" stroke="#333" stroke-width="0.7"/>
<line x1="367.30" y1="253.96" x2="374.70" y2="253.96" stroke="#333" stroke-width="0.7"/>
<circle cx="371.00" cy="236.61" r="1.75" fill="#fff" stroke="#000" stroke-width="0.8"/>
<circle cx="371.00" cy="242.16" r="1.75" fill="#fff" stroke="#000" stroke-width="0.8"/>
<circle cx="371.00" cy="254.66" r="1.75" fill="#fff" stroke="#000" stroke-width="0.8"/>
<rect x="387.95" y="232.21" width="15.70" height="77.29" fill="#f84444" stroke="#222" stroke-width="0.6"/>
<line x1="395.80" y1="218.33" x2="395.80" y2="244.01" stroke="#333" stroke-width="0.7"/>
<line x1="392.10" y1="218.33" x2="399.50" y2="218.33" stroke="#333" stroke-width="0.7"/>
<line x1="392.10" y1="244.01" x2="399.50" y2="244.01" stroke="#333" stroke-width="0.7"/>
<circle cx="395.80" cy="217.17" r="1.75" fill="#fff" stroke="#000" stroke-width="0.8"/>
<circle cx="395.80" cy="235.68" r="1.75" fill="#fff" stroke="#000" stroke-width="0.8"/>
<circle cx="395.80" cy="242.16" r="1.75" fill="#fff" stroke="#000" stroke-width="0.8"/>
<text x="346.50" y="321.90" font-size="7.2" text-anchor="middle" font-weight="normal" fill="#222" font-family="'Liberation Sans', sans-serif" >Vec</text>
<text x="370.10" y="321.90" font-size="7.2" text-anchor="middle" font-weight="normal" fill="#222" font-family="'Liberation Sans', sans-serif" >PCDH10</text>
<text x="397.80" y="321.90" font-size="7.2" text-anchor="middle" font-weight="normal" fill="#222" font-family="'Liberation Sans', sans-serif" >VLDLR</text>
<text x="0" y="0" font-size="7.4" text-anchor="middle" font-family="'Liberation Sans', sans-serif" fill="#222" transform="translate(311.30,252.00) rotate(-90)">Relative infection ( %)</text>
<line x1="341.00" y1="192.30" x2="382.65" y2="192.30" stroke="#555" stroke-width="0.9"/>
<line x1="341.00" y1="199.40" x2="403.10" y2="199.40" stroke="#555" stroke-width="0.9"/>
<text x="371.00" y="192.00" font-size="7.4" text-anchor="middle" font-weight="normal" fill="#333" font-family="'Liberation Sans', sans-serif" >ns</text>
<text x="393.60" y="199.10" font-size="7.4" text-anchor="middle" font-weight="normal" fill="#333" font-family="'Liberation Sans', sans-serif" >ns</text>
<text x="371.20" y="231.00" font-size="6.85" text-anchor="middle" font-weight="normal" fill="#111" font-family="'Liberation Sans', sans-serif" >p=0.604</text>
<text x="396.00" y="212.80" font-size="6.85" text-anchor="middle" font-weight="normal" fill="#111" font-family="'Liberation Sans', sans-serif" >p=0.363</text>
<text x="509.10" y="181.20" font-size="7.3" text-anchor="middle" font-weight="normal" fill="#222" font-family="'Liberation Sans', sans-serif" >WEEV Imperial181 E181K</text>
<line x1="468.70" y1="193.20" x2="468.70" y2="309.90" stroke="#333" stroke-width="0.9"/>
<line x1="468.30" y1="309.50" x2="550.20" y2="309.50" stroke="#6a6a6a" stroke-width="0.9"/>
<line x1="466.10" y1="309.50" x2="468.70" y2="309.50" stroke="#444" stroke-width="0.8"/>
<text x="465.40" y="311.90" font-size="6.8" text-anchor="end" font-weight="normal" fill="#222" font-family="'Liberation Sans', sans-serif" >0</text>
<line x1="466.10" y1="266.40" x2="468.70" y2="266.40" stroke="#444" stroke-width="0.8"/>
<text x="465.40" y="268.80" font-size="6.8" text-anchor="end" font-weight="normal" fill="#222" font-family="'Liberation Sans', sans-serif" >20</text>
<line x1="466.10" y1="223.30" x2="468.70" y2="223.30" stroke="#444" stroke-width="0.8"/>
<text x="465.40" y="225.70" font-size="6.8" text-anchor="end" font-weight="normal" fill="#222" font-family="'Liberation Sans', sans-serif" >40</text>
<line x1="484.60" y1="309.50" x2="484.60" y2="311.90" stroke="#444" stroke-width="0.7"/>
<line x1="509.00" y1="309.50" x2="509.00" y2="311.90" stroke="#444" stroke-width="0.7"/>
<line x1="533.40" y1="309.50" x2="533.40" y2="311.90" stroke="#444" stroke-width="0.7"/>
<rect x="476.75" y="307.39" width="15.70" height="2.11" fill="#808080" stroke="#222" stroke-width="0.6"/>
<line x1="484.60" y1="305.62" x2="484.60" y2="308.21" stroke="#333" stroke-width="0.7"/>
<line x1="480.90" y1="305.62" x2="488.30" y2="305.62" stroke="#333" stroke-width="0.7"/>
<line x1="480.90" y1="308.21" x2="488.30" y2="308.21" stroke="#333" stroke-width="0.7"/>
<circle cx="477.80" cy="307.78" r="1.75" fill="#fff" stroke="#000" stroke-width="0.8"/>
<circle cx="484.80" cy="306.48" r="1.75" fill="#fff" stroke="#000" stroke-width="0.8"/>
<circle cx="491.10" cy="307.78" r="1.75" fill="#fff" stroke="#000" stroke-width="0.8"/>
<rect x="501.15" y="307.35" width="15.70" height="2.15" fill="#0000ff" stroke="#222" stroke-width="0.6"/>
<line x1="509.00" y1="304.54" x2="509.00" y2="308.21" stroke="#333" stroke-width="0.7"/>
<line x1="505.30" y1="304.54" x2="512.70" y2="304.54" stroke="#333" stroke-width="0.7"/>
<line x1="505.30" y1="308.21" x2="512.70" y2="308.21" stroke="#333" stroke-width="0.7"/>
<circle cx="501.90" cy="308.31" r="1.75" fill="#fff" stroke="#000" stroke-width="0.8"/>
<circle cx="508.90" cy="304.97" r="1.75" fill="#fff" stroke="#000" stroke-width="0.8"/>
<circle cx="515.40" cy="305.73" r="1.75" fill="#fff" stroke="#000" stroke-width="0.8"/>
<rect x="525.55" y="216.19" width="15.70" height="93.31" fill="#f84444" stroke="#222" stroke-width="0.6"/>
<line x1="533.40" y1="211.45" x2="533.40" y2="220.93" stroke="#333" stroke-width="0.7"/>
<line x1="529.70" y1="211.45" x2="537.10" y2="211.45" stroke="#333" stroke-width="0.7"/>
<line x1="529.70" y1="220.93" x2="537.10" y2="220.93" stroke="#333" stroke-width="0.7"/>
<circle cx="527.00" cy="212.74" r="1.75" fill="#fff" stroke="#000" stroke-width="0.8"/>
<circle cx="533.40" cy="222.01" r="1.75" fill="#fff" stroke="#000" stroke-width="0.8"/>
<circle cx="539.70" cy="213.82" r="1.75" fill="#fff" stroke="#000" stroke-width="0.8"/>
<text x="484.10" y="321.90" font-size="7.2" text-anchor="middle" font-weight="normal" fill="#222" font-family="'Liberation Sans', sans-serif" >Vec</text>
<text x="508.10" y="321.90" font-size="7.2" text-anchor="middle" font-weight="normal" fill="#222" font-family="'Liberation Sans', sans-serif" >PCDH10</text>
<text x="535.40" y="321.90" font-size="7.2" text-anchor="middle" font-weight="normal" fill="#222" font-family="'Liberation Sans', sans-serif" >VLDLR</text>
<text x="0" y="0" font-size="7.4" text-anchor="middle" font-family="'Liberation Sans', sans-serif" fill="#222" transform="translate(451.70,252.00) rotate(-90)">Relative infection ( %)</text>
<line x1="478.60" y1="192.30" x2="520.65" y2="192.30" stroke="#a0a0a0" stroke-width="0.9"/>
<line x1="478.60" y1="199.40" x2="540.70" y2="199.40" stroke="#333" stroke-width="0.9"/>
<text x="509.00" y="192.00" font-size="7.4" text-anchor="middle" font-weight="normal" fill="#333" font-family="'Liberation Sans', sans-serif" >ns</text>
<text x="531.50" y="200.20" font-size="8.6" text-anchor="middle" font-weight="bold" fill="#222" font-family="'Liberation Sans', sans-serif" >**</text>
<text x="509.20" y="301.40" font-size="6.85" text-anchor="middle" font-weight="normal" fill="#111" font-family="'Liberation Sans', sans-serif" >p=0.391</text>
<text x="533.60" y="207.70" font-size="6.85" text-anchor="middle" font-weight="normal" fill="#111" font-family="'Liberation Sans', sans-serif" >p&lt;0.001</text>
<text x="643.00" y="181.20" font-size="7.3" text-anchor="middle" font-weight="normal" fill="#222" font-family="'Liberation Sans', sans-serif" >WEEV Imperial181 E81K</text>
<line x1="602.10" y1="193.20" x2="602.10" y2="309.90" stroke="#333" stroke-width="0.9"/>
<line x1="601.70" y1="309.50" x2="683.60" y2="309.50" stroke="#6a6a6a" stroke-width="0.9"/>
<line x1="599.50" y1="309.50" x2="602.10" y2="309.50" stroke="#444" stroke-width="0.8"/>
<text x="598.80" y="311.90" font-size="6.8" text-anchor="end" font-weight="normal" fill="#222" font-family="'Liberation Sans', sans-serif" >0</text>
<line x1="599.50" y1="273.80" x2="602.10" y2="273.80" stroke="#444" stroke-width="0.8"/>
<text x="598.80" y="276.20" font-size="6.8" text-anchor="end" font-weight="normal" fill="#222" font-family="'Liberation Sans', sans-serif" >2</text>
<line x1="599.50" y1="238.10" x2="602.10" y2="238.10" stroke="#444" stroke-width="0.8"/>
<text x="598.80" y="240.50" font-size="6.8" text-anchor="end" font-weight="normal" fill="#222" font-family="'Liberation Sans', sans-serif" >4</text>
<line x1="599.50" y1="202.40" x2="602.10" y2="202.40" stroke="#444" stroke-width="0.8"/>
<text x="598.80" y="204.80" font-size="6.8" text-anchor="end" font-weight="normal" fill="#222" font-family="'Liberation Sans', sans-serif" >6</text>
<line x1="618.40" y1="309.50" x2="618.40" y2="311.90" stroke="#444" stroke-width="0.7"/>
<line x1="642.90" y1="309.50" x2="642.90" y2="311.90" stroke="#444" stroke-width="0.7"/>
<line x1="667.40" y1="309.50" x2="667.40" y2="311.90" stroke="#444" stroke-width="0.7"/>
<rect x="610.55" y="293.97" width="15.70" height="15.53" fill="#808080" stroke="#222" stroke-width="0.6"/>
<line x1="618.40" y1="291.83" x2="618.40" y2="296.11" stroke="#333" stroke-width="0.7"/>
<line x1="614.70" y1="291.83" x2="622.10" y2="291.83" stroke="#333" stroke-width="0.7"/>
<line x1="614.70" y1="296.11" x2="622.10" y2="296.11" stroke="#333" stroke-width="0.7"/>
<circle cx="612.00" cy="296.11" r="1.75" fill="#fff" stroke="#000" stroke-width="0.8"/>
<circle cx="618.50" cy="292.01" r="1.75" fill="#fff" stroke="#000" stroke-width="0.8"/>
<circle cx="624.90" cy="293.79" r="1.75" fill="#fff" stroke="#000" stroke-width="0.8"/>
<rect x="635.05" y="302.79" width="15.70" height="6.71" fill="#0000ff" stroke="#222" stroke-width="0.6"/>
<circle cx="636.50" cy="303.79" r="1.75" fill="#fff" stroke="#000" stroke-width="0.8"/>
<circle cx="642.80" cy="301.47" r="1.75" fill="#fff" stroke="#000" stroke-width="0.8"/>
<circle cx="649.50" cy="303.07" r="1.75" fill="#fff" stroke="#000" stroke-width="0.8"/>
<rect x="659.55" y="217.93" width="15.70" height="91.57" fill="#f84444" stroke="#222" stroke-width="0.6"/>
<line x1="667.40" y1="213.82" x2="667.40" y2="221.68" stroke="#333" stroke-width="0.7"/>
<line x1="663.70" y1="213.82" x2="671.10" y2="213.82" stroke="#333" stroke-width="0.7"/>
<line x1="663.70" y1="221.68" x2="671.10" y2="221.68" stroke="#333" stroke-width="0.7"/>
<circle cx="661.20" cy="221.50" r="1.75" fill="#fff" stroke="#000" stroke-width="0.8"/>
<circle cx="667.20" cy="213.82" r="1.75" fill="#fff" stroke="#000" stroke-width="0.8"/>
<circle cx="674.00" cy="218.64" r="1.75" fill="#fff" stroke="#000" stroke-width="0.8"/>
<text x="617.90" y="321.90" font-size="7.2" text-anchor="middle" font-weight="normal" fill="#222" font-family="'Liberation Sans', sans-serif" >Vec</text>
<text x="642.00" y="321.90" font-size="7.2" text-anchor="middle" font-weight="normal" fill="#222" font-family="'Liberation Sans', sans-serif" >PCDH10</text>
<text x="669.40" y="321.90" font-size="7.2" text-anchor="middle" font-weight="normal" fill="#222" font-family="'Liberation Sans', sans-serif" >VLDLR</text>
<text x="0" y="0" font-size="7.4" text-anchor="middle" font-family="'Liberation Sans', sans-serif" fill="#222" transform="translate(588.90,252.00) rotate(-90)">Relative infection ( %)</text>
<line x1="612.40" y1="192.30" x2="654.55" y2="192.30" stroke="#a0a0a0" stroke-width="0.9"/>
<line x1="612.40" y1="199.40" x2="674.70" y2="199.40" stroke="#333" stroke-width="0.9"/>
<text x="643.20" y="193.10" font-size="8.6" text-anchor="middle" font-weight="bold" fill="#222" font-family="'Liberation Sans', sans-serif" >**</text>
<text x="665.50" y="200.20" font-size="8.6" text-anchor="middle" font-weight="bold" fill="#222" font-family="'Liberation Sans', sans-serif" >**</text>
<text x="643.10" y="295.20" font-size="6.85" text-anchor="middle" font-weight="normal" fill="#111" font-family="'Liberation Sans', sans-serif" >p=0.003</text>
<text x="667.60" y="209.70" font-size="6.85" text-anchor="middle" font-weight="normal" fill="#111" font-family="'Liberation Sans', sans-serif" >p&lt;0.001</text>
</svg>
</body></html>
